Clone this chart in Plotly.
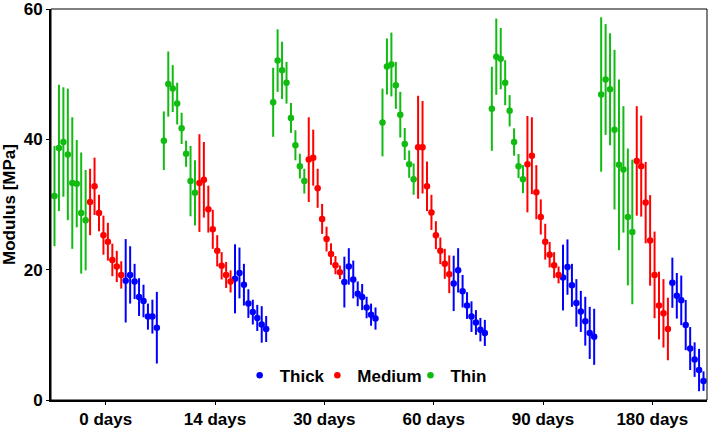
import plotly.graph_objects as go

groups = ["0 days", "14 days", "30 days", "60 days", "90 days", "180 days"]

thin_vals = [
    [31.3, 38.7, 39.6, 37.7, 33.3, 33.2, 28.7, 27.6],
    [39.8, 48.5, 47.8, 45.5, 41.7, 37.8, 33.6, 31.8],
    [45.7, 52.1, 50.6, 48.7, 43.3, 39.1, 35.9, 33.6],
    [42.6, 51.2, 51.5, 48.3, 43.8, 39.3, 36.2, 33.9],
    [44.7, 52.7, 52.4, 48.7, 44.4, 39.6, 35.9, 33.9],
    [46.9, 49.2, 47.7, 41.5, 36.1, 35.4, 28.1, 25.8],
]
thin_err = [
    [7.7, 9.7, 8.4, 10.1, 10.1, 6.7, 9.3, 7.7],
    [4.5, 5.0, 3.6, 3.2, 2.4, 2.0, 5.4, 5.0],
    [5.3, 4.8, 4.4, 3.2, 2.3, 2.3, 1.9, 1.9],
    [5.2, 4.3, 4.9, 3.6, 3.5, 2.45, 2.1, 2.4],
    [6.45, 5.85, 4.7, 3.45, 2.4, 2.1, 1.85, 2.15],
    [11.85, 8.5, 8.6, 12.25, 13.1, 9.7, 10.5, 11.1],
]
medium_vals = [
    [30.4, 32.8, 28.7, 25.3, 24.3, 21.5, 20.5, 19.2],
    [33.3, 33.8, 29.3, 26.2, 22.9, 20.6, 19.2, 18.2],
    [36.9, 37.2, 32.5, 27.8, 24.7, 22.4, 20.7, 19.6],
    [38.8, 38.8, 32.8, 28.8, 25.3, 22.9, 20.9, 19.3],
    [36.2, 37.5, 31.9, 28.1, 24.3, 22.3, 20.7, 19.2],
    [36.7, 35.9, 30.3, 24.5, 19.2, 14.5, 13.3, 10.9],
]
medium_err = [
    [5.1, 4.4, 2.8, 3.0, 2.9, 2.5, 2.4, 2.1],
    [7.5, 5.8, 3.6, 3.0, 2.4, 2.1, 2.0, 1.7],
    [6.5, 4.3, 3.0, 2.3, 1.9, 1.65, 1.4, 1.05],
    [7.9, 7.1, 3.8, 2.7, 2.15, 2.05, 2.3, 2.9],
    [7.4, 5.9, 4.15, 2.7, 2.75, 1.95, 2.0, 1.3],
    [8.4, 7.75, 6.25, 6.95, 6.65, 5.2, 5.25, 4.8],
]
thick_vals = [
    [18.3, 19.2, 18.2, 15.8, 15.2, 12.8, 12.8, 11.1],
    [18.6, 19.5, 17.7, 14.8, 13.5, 12.6, 11.6, 10.9],
    [18.1, 20.5, 18.5, 16.3, 15.8, 14.2, 13.1, 12.5],
    [17.9, 19.9, 16.7, 14.5, 12.8, 11.9, 10.8, 10.3],
    [18.8, 20.4, 17.6, 14.9, 13.6, 12.1, 10.3, 9.7],
    [18.0, 16.0, 15.3, 11.5, 7.9, 6.2, 4.6, 2.9],
]
thick_err = [
    [6.4, 4.4, 2.7, 2.9, 2.5, 2.0, 2.6, 5.5],
    [5.3, 3.9, 3.2, 2.2, 1.9, 2.0, 2.8, 2.0],
    [3.9, 2.8, 2.9, 1.9, 2.0, 1.65, 1.7, 1.7],
    [4.25, 3.4, 2.5, 2.05, 2.35, 1.9, 1.8, 2.0],
    [5.05, 4.25, 3.3, 3.65, 3.15, 3.75, 4.0, 4.3],
    [3.85, 3.5, 3.8, 3.85, 3.3, 2.65, 3.25, 1.5],
]

# name, values, errors, colour, block position within group, legend id, legend x (paper)
series = [
    ("Thick", thick_vals, thick_err, "#0000FF", 2, "legend", 0.2876),
    ("Medium", medium_vals, medium_err, "#FF0000", 1, "legend2", 0.406),
    ("Thin", thin_vals, thin_err, "#11BB11", 0, "legend3", 0.548),
]

STEP = 0.0407
N = 8
font = dict(family="Liberation Sans, Arial, sans-serif", size=17, color="black", weight="bold")

fig = go.Figure()
legends = {}
for name, vals, errs, color, block, leg, lx in series:
    xs, ys, es = [], [], []
    for g, (gv, ge) in enumerate(zip(vals, errs)):
        for i, (v, e) in enumerate(zip(gv, ge)):
            idx = block * N + i
            xs.append(g + (idx - 11.5) * STEP)
            ys.append(v)
            es.append(e)
    fig.add_trace(go.Scatter(
        x=xs, y=ys, mode="markers", name=name, legend=leg,
        marker=dict(color=color, size=6.5),
        error_y=dict(type="data", array=es, visible=True, color=color,
                     thickness=2, width=0),
    ))
    legends[leg] = dict(orientation="h", x=lx, xanchor="left", y=0.062, yanchor="middle",
                        bgcolor="rgba(0,0,0,0)", font=font, itemwidth=30)

fig.update_layout(
    width=709, height=428,
    margin=dict(l=51, r=2, t=9, b=28),
    plot_bgcolor="white", paper_bgcolor="white",
    font=font,
    showlegend=True,
    xaxis=dict(range=[-0.5, 5.5], tickmode="array", tickvals=list(range(len(groups))),
               ticktext=groups, showgrid=False, zeroline=False, automargin=False,
               showline=True, linecolor="black", linewidth=2,
               ticks="outside", ticklen=3, tickwidth=1, tickcolor="black",
               tickfont=font),
    yaxis=dict(range=[0, 60.02], tickmode="array", tickvals=[0, 20, 40, 60],
               showgrid=False, zeroline=False, automargin=False,
               showline=True, linecolor="black", linewidth=2,
               ticks="outside", ticklen=3, tickwidth=1, tickcolor="black",
               tickfont=font,
               title=dict(text="Modulus [MPa]", font=font, standoff=4)),
    shapes=[dict(type="rect", xref="paper", yref="paper", x0=0, x1=1, y0=0, y1=1,
                 line=dict(color="black", width=1), layer="above")],
    **legends,
)

fig.write_html("out.html", config={"displayModeBar": False},
               post_script="document.body.style.margin='0';document.body.style.overflow='hidden';")
